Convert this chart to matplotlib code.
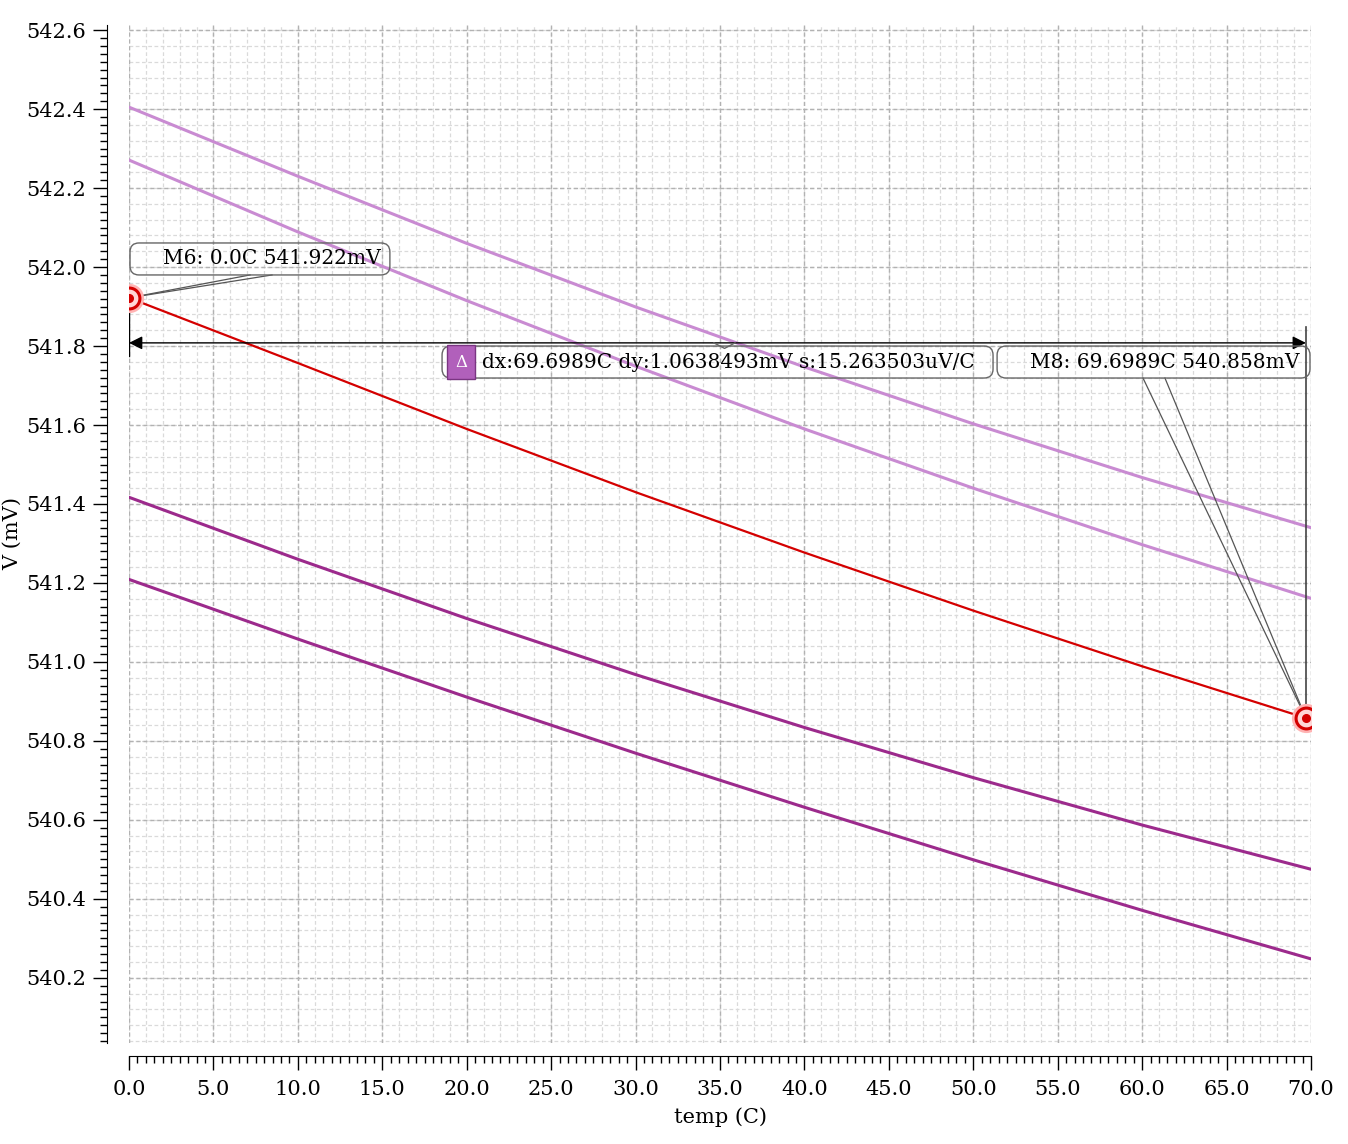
import matplotlib
matplotlib.use('Agg')
import matplotlib.pyplot as plt
import numpy as np
from matplotlib.patches import FancyBboxPatch
from matplotlib.ticker import MultipleLocator, FormatStrFormatter

# temperature sweep (C) and output voltages (mV)
temp = [0.0, 10.0, 20.0, 30.0, 40.0, 50.0, 60.0, 70.0]
v_lp1 = [542.405, 542.230, 542.060, 541.899, 541.747, 541.603, 541.467, 541.340]
v_lp2 = [542.271, 542.089, 541.915, 541.749, 541.590, 541.440, 541.297, 541.161]
v_dp1 = [541.417, 541.260, 541.110, 540.968, 540.834, 540.707, 540.587, 540.475]
v_dp2 = [541.209, 541.058, 540.911, 540.769, 540.632, 540.499, 540.371, 540.248]

temp_red = [0.0, 10.0, 20.0, 30.0, 40.0, 50.0, 60.0, 69.6989]
v_red = [541.922, 541.757, 541.590, 541.430, 541.277, 541.130, 540.989, 540.858]

# markers
m6 = (0.0, 541.922)
m8 = (69.6989, 540.858)
m6_text = 'M6: 0.0C 541.922mV'
m8_text = 'M8: 69.6989C 540.858mV'
delta_text = 'dx:69.6989C dy:1.0638493mV s:15.263503uV/C'

x_ticks_major = 5.0
y_ticks_major = 0.2

plt.rcParams['font.family'] = ['DejaVu Serif']
plt.rcParams['font.size'] = 15
BOX_FS = 14.5

LIGHT = '#c98bd2'
DARK = '#9c2a8c'
RED = '#d40000'

# data units per pixel, used to give the rounded boxes round corners
XPX = 70.0 / 1182
YPX = (542.613 - 540.035) / 1018


def label_box(ax, x0, y0, x1, y1):
    # the marker boxes are see-through, the traces show across them
    box = FancyBboxPatch((x0, y0), x1 - x0, y1 - y0,
                         boxstyle='round,pad=0,rounding_size=%f' % (9 * XPX),
                         mutation_aspect=YPX / XPX,
                         fc='none', ec='#666666', lw=1.0, zorder=6)
    ax.add_patch(box)


def draw_marker(ax, x, y):
    ax.plot(x, y, 'o', ms=18, mfc='none', mec='#ffb3b3', mew=3, zorder=8)
    ax.plot(x, y, 'o', ms=15, mfc='#ffd6d6', mec=RED, mew=2.2, zorder=8)
    ax.plot(x, y, 'o', ms=5.5, mfc=RED, mec=RED, zorder=9)


fig = plt.figure(figsize=(13.48, 11.44), dpi=100)
ax = fig.add_axes([129 / 1348, 101 / 1144, 1182 / 1348, 1018 / 1144])
ax.set_xlim(0, 70)
ax.set_ylim(540.035, 542.613)

# grid: light minor and darker major dashed lines
for gx in np.arange(0, 70.01, 1.0):
    ax.axvline(gx, color='#dadada', lw=0.9, ls=(0, (3, 2)), zorder=0)
for gy in np.arange(540.04, 542.62, 0.04):
    ax.axhline(gy, color='#dadada', lw=0.9, ls=(0, (3, 2)), zorder=0)
ax.grid(which='major', color='#b2b2b2', lw=1.0, ls=(0, (3, 2)), zorder=0)
ax.set_axisbelow(True)

ax.plot(temp, v_lp1, color=LIGHT, lw=2.2, zorder=3)
ax.plot(temp, v_lp2, color=LIGHT, lw=2.2, zorder=3)
ax.plot(temp, v_dp1, color=DARK, lw=2.2, zorder=3)
ax.plot(temp, v_dp2, color=DARK, lw=2.2, zorder=3)
ax.plot(temp_red, v_red, color=RED, lw=1.6, zorder=4)

# delta measurement between M6 and M8
y_arrow = 541.808
ax.plot([m6[0], m6[0]], [m6[1], 541.775], color='black', lw=1.0, zorder=5)
ax.plot([m8[0], m8[0]], [541.848, m8[1]], color='#444444', lw=1.2, zorder=5)
ax.annotate('', xy=(m6[0], y_arrow), xytext=(m8[0], y_arrow),
            arrowprops=dict(arrowstyle='<|-|>', color='black', lw=1.0,
                            mutation_scale=20, shrinkA=0, shrinkB=0), zorder=5)

# M6 label
label_box(ax, 0.06, 541.980, 15.45, 542.061)
ax.plot([7.17, m6[0]], [541.980, m6[1]], color='#555555', lw=0.9, zorder=5)
ax.plot([8.47, m6[0]], [541.980, m6[1]], color='#555555', lw=0.9, zorder=5)
ax.text(2.0, 542.021, m6_text, ha='left', va='center', fontsize=BOX_FS, zorder=7)

# delta label, with its small notch up to the arrow
label_box(ax, 18.54, 541.719, 51.17, 541.800)
ax.plot([34.64, 35.27, 35.89], [y_arrow, 541.794, y_arrow], color='#666666',
        lw=1.0, zorder=7)
ax.text(19.66, 541.759, '\u0394', ha='center', va='center', color='white',
        fontsize=12, zorder=8,
        bbox=dict(boxstyle='square,pad=0.5', fc='#b160bb', ec='#7a3582', lw=1))
ax.text(20.9, 541.759, delta_text, ha='left', va='center', fontsize=BOX_FS,
        zorder=7)

# M8 label
label_box(ax, 51.41, 541.719, 69.94, 541.800)
ax.plot([60.05, m8[0]], [541.719, m8[1]], color='#555555', lw=0.9, zorder=5)
ax.plot([61.35, m8[0]], [541.719, m8[1]], color='#555555', lw=0.9, zorder=5)
ax.text(53.35, 541.759, m8_text, ha='left', va='center', fontsize=BOX_FS,
        zorder=7)

draw_marker(ax, *m6)
draw_marker(ax, *m8)

# axes look
ax.spines['top'].set_visible(False)
ax.spines['right'].set_visible(False)
ax.spines['left'].set_position(('outward', 22 * 0.72))
ax.spines['bottom'].set_position(('outward', 13 * 0.72))
ax.xaxis.set_major_locator(MultipleLocator(x_ticks_major))
ax.xaxis.set_minor_locator(MultipleLocator(0.5))
ax.yaxis.set_major_locator(MultipleLocator(y_ticks_major))
ax.yaxis.set_minor_locator(MultipleLocator(0.02))
ax.xaxis.set_major_formatter(FormatStrFormatter('%.1f'))
ax.yaxis.set_major_formatter(FormatStrFormatter('%.1f'))
ax.tick_params(which='major', length=10, width=1.0, pad=5)
ax.tick_params(which='minor', length=5, width=1.0)
ax.tick_params(axis='x', which='major', pad=7)

ax.set_xlabel('temp (C)', labelpad=6)
ax.set_ylabel('V (mV)', labelpad=3)

fig.savefig('out.png', dpi=100)
plt.close(fig)
